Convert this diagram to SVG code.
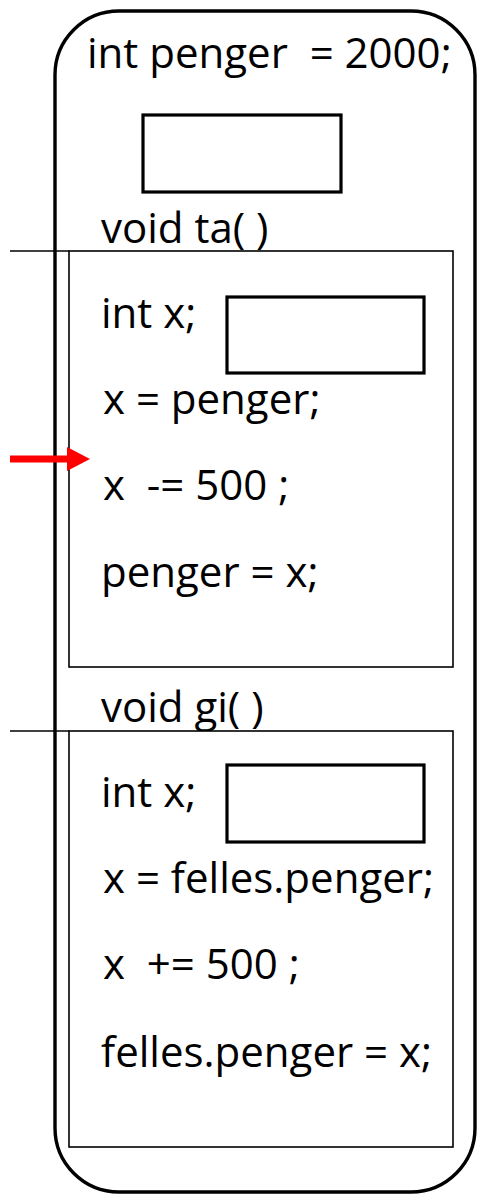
<svg xmlns="http://www.w3.org/2000/svg" width="477" height="1195" viewBox="0 0 477 1195">
  <style>
    text { font-family: "Open Sans", "DejaVu Sans", sans-serif; font-size: 42px; fill: #000; white-space: pre; }
    .frame { fill: #fff; stroke: #000; stroke-width: 1.6; }
    .slot { fill: #fff; stroke: #000; stroke-width: 3.2; }
    .rule { stroke: #000; stroke-width: 1.6; fill: none; }
  </style>
  <g id="object">
    <rect x="55" y="11" width="420" height="1181" rx="64" ry="64" fill="#fff" stroke="#000" stroke-width="3.4"/>
    <text x="87" y="68">int penger  = 2000;</text>
    <rect class="slot" x="143" y="115" width="198" height="77"/>
  </g>
  <g id="ta">
    <text x="101" y="243">void ta( )</text>
    <rect class="frame" x="69" y="251" width="384" height="416"/>
    <text x="101" y="328">int x;</text>
    <rect class="slot" x="227" y="297" width="197" height="76"/>
    <text x="103" y="414">x = penger;</text>
    <text x="103" y="500">x  -= 500 ;</text>
    <text x="101" y="587">penger = x;</text>
  </g>
  <g id="gi">
    <text x="101" y="722">void gi( )</text>
    <rect class="frame" x="69" y="731" width="384" height="416"/>
    <text x="101" y="807">int x;</text>
    <rect class="slot" x="227" y="765" width="197" height="77"/>
    <text x="103" y="893">x = felles.penger;</text>
    <text x="103" y="979">x  += 500 ;</text>
    <text x="101" y="1067">felles.penger = x;</text>
  </g>
  <g id="connectors">
    <line class="rule" x1="10" y1="251" x2="69" y2="251"/>
    <line class="rule" x1="10" y1="731" x2="69" y2="731"/>
    <line x1="10" y1="459" x2="68" y2="459" stroke="#ff0000" stroke-width="7"/>
    <polygon points="67,447 90,459 67,471" fill="#ff0000"/>
  </g>
</svg>
